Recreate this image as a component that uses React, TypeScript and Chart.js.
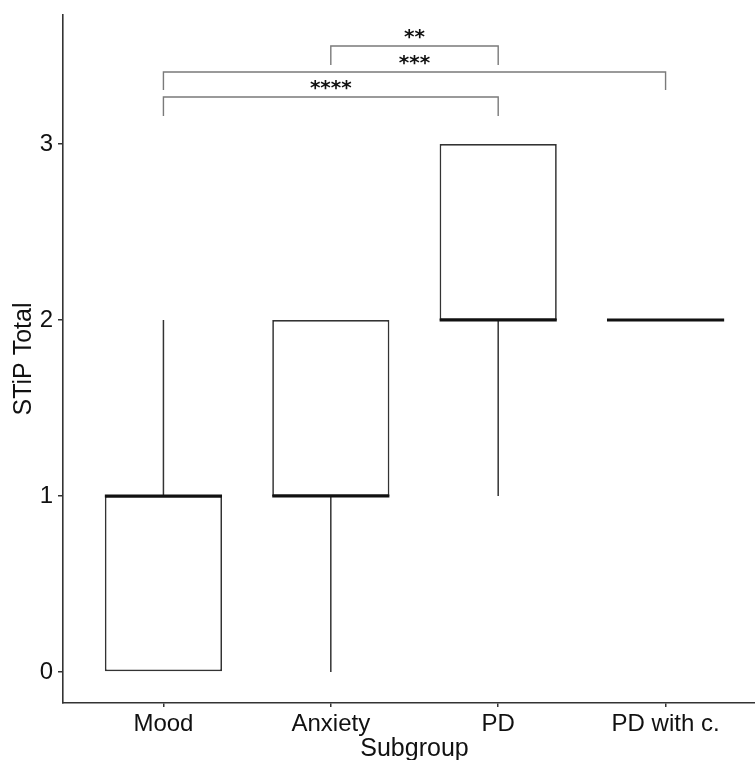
import React, { useEffect, useRef } from 'react';
import { Chart, registerables } from 'chart.js';

Chart.register(...registerables);

const categories = ['Mood', 'Anxiety', 'PD', 'PD with c.'];
const whiskerLow = [0, 0, 1, 2];
const q1 = [0, 1, 2, 2];
const median = [1, 1, 2, 2];
const q3 = [1, 2, 3, 2];
const whiskerHigh = [2, 2, 3, 2];
const yTicks = [0, 1, 2, 3];

const bracketFrom = [1, 1, 2];
const bracketTo = [3, 4, 3];
const bracketY = [3.267, 3.409, 3.557];
const bracketTip = [3.159, 3.307, 3.449];
const bracketLabels = ['****', '***', '**'];

const FONT = "'Liberation Sans', Arial, sans-serif";

const boxExtras = {
  id: 'boxExtras',
  afterDatasetsDraw(chart: any) {
    const { ctx, scales } = chart;
    const x = scales.x;
    const y = scales.y;
    const meta = chart.getDatasetMeta(0);
    ctx.save();
    meta.data.forEach((bar: any, i: number) => {
      const cx = x.getPixelForValue(i + 1);
      const half = bar.width / 2;
      ctx.strokeStyle = '#333333';
      ctx.lineWidth = 1.5;
      ctx.beginPath();
      if (whiskerHigh[i] > q3[i]) {
        ctx.moveTo(cx, y.getPixelForValue(q3[i]));
        ctx.lineTo(cx, y.getPixelForValue(whiskerHigh[i]));
      }
      if (whiskerLow[i] < q1[i]) {
        ctx.moveTo(cx, y.getPixelForValue(q1[i]));
        ctx.lineTo(cx, y.getPixelForValue(whiskerLow[i]));
      }
      ctx.stroke();
      ctx.strokeStyle = '#111111';
      ctx.lineWidth = 3.2;
      ctx.beginPath();
      const my = y.getPixelForValue(median[i]);
      ctx.moveTo(cx - half, my);
      ctx.lineTo(cx + half, my);
      ctx.stroke();
    });

    bracketFrom.forEach((from, i) => {
      const x1 = x.getPixelForValue(from);
      const x2 = x.getPixelForValue(bracketTo[i]);
      const yl = y.getPixelForValue(bracketY[i]);
      const yt = y.getPixelForValue(bracketTip[i]);
      ctx.strokeStyle = '#7a7a7a';
      ctx.lineWidth = 1.4;
      ctx.beginPath();
      ctx.moveTo(x1, yt);
      ctx.lineTo(x1, yl);
      ctx.lineTo(x2, yl);
      ctx.lineTo(x2, yt);
      ctx.stroke();
      ctx.fillStyle = '#111111';
      ctx.font = "bold 20px 'DejaVu Sans', sans-serif";
      ctx.textAlign = 'center';
      ctx.textBaseline = 'alphabetic';
      ctx.fillText(bracketLabels[i], (x1 + x2) / 2, yl - 3);
    });
    ctx.restore();
  },
};

export default function App() {
  const ref = useRef<HTMLCanvasElement | null>(null);

  useEffect(() => {
    if (!ref.current) return;
    const chart = new Chart(ref.current, {
      type: 'bar',
      data: {
        datasets: [
          {
            data: categories.map((_, i) => ({ x: i + 1, y: [q1[i], q3[i]] })) as any,
            backgroundColor: '#ffffff',
            borderColor: '#333333',
            borderWidth: 1.7,
            borderSkipped: false,
            barPercentage: 0.7,
            categoryPercentage: 1,
          },
        ],
      },
      options: {
        animation: false,
        responsive: false,
        devicePixelRatio: 1,
        layout: { padding: { top: 15, left: 0, right: 0, bottom: 0 } },
        plugins: { legend: { display: false }, tooltip: { enabled: false } },
        scales: {
          x: {
            type: 'linear',
            min: 0.4,
            max: 4.6,
            offset: false,
            afterBuildTicks: (s: any) => {
              s.ticks = categories.map((_, i) => ({ value: i + 1 }));
            },
            afterFit: (s: any) => {
              s.height = 57;
              s.paddingLeft = 0;
              s.paddingRight = 0;
            },
            ticks: {
              callback: (v: any) => categories[Math.round(v) - 1],
              font: { family: FONT, size: 24 },
              color: '#111111',
              padding: 3,
              maxRotation: 0,
              autoSkip: false,
            },
            grid: {
              drawOnChartArea: false,
              drawTicks: true,
              tickLength: 4,
              color: '#333333',
              lineWidth: 1.5,
              offset: false,
            },
            border: { display: true, color: '#333333', width: 1.6 },
            title: {
              display: true,
              text: 'Subgroup',
              font: { family: FONT, size: 25, lineHeight: 1 },
              color: '#111111',
              padding: { top: 0, bottom: -2 },
            },
          },
          y: {
            type: 'linear',
            min: -0.176,
            max: 3.733,
            afterBuildTicks: (s: any) => {
              s.ticks = yTicks.map((v) => ({ value: v }));
            },
            afterFit: (s: any) => {
              s.width = 63;
              s.paddingTop = 0;
              s.paddingBottom = 0;
            },
            ticks: {
              font: { family: FONT, size: 24 },
              color: '#111111',
              padding: 5,
            },
            grid: {
              drawOnChartArea: false,
              drawTicks: true,
              tickLength: 5,
              color: '#333333',
              lineWidth: 1.5,
            },
            border: { display: true, color: '#333333', width: 1.6 },
            title: {
              display: true,
              text: 'STiP Total',
              font: { family: FONT, size: 25, lineHeight: 1.2 },
              color: '#111111',
              padding: { top: 9, bottom: 0 },
            },
          },
        },
      },
      plugins: [boxExtras],
    });
    return () => chart.destroy();
  }, []);

  return (
    <div
      style={{
        position: 'fixed',
        left: 0,
        top: 0,
        width: 755,
        height: 760,
        overflow: 'hidden',
        background: '#ffffff',
      }}
    >
      <canvas ref={ref} width={766} height={760} style={{ width: 766, height: 760, display: 'block' }} />
    </div>
  );
}
